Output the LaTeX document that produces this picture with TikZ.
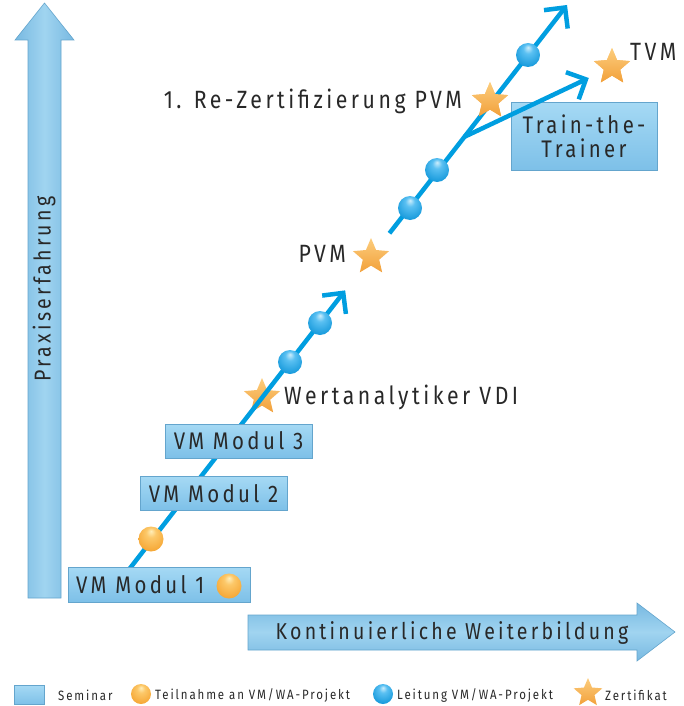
\documentclass[tikz,border=0pt]{standalone}
\usepackage{fontspec}
\setmainfont{Fira Sans}[FakeStretch=0.85, LetterSpace=14]
\usetikzlibrary{arrows.meta,shapes.geometric,shadings}
\definecolor{linec}{RGB}{0,158,224}
\definecolor{boxtop}{RGB}{165,217,244}
\definecolor{boxbot}{RGB}{125,192,232}
\definecolor{boxedge}{RGB}{100,165,205}
\definecolor{arrmid}{RGB}{160,212,240}
\definecolor{arredge}{RGB}{120,185,225}
\definecolor{bhl}{RGB}{205,238,252}
\definecolor{bmid}{RGB}{90,192,242}
\definecolor{ballblue}{RGB}{25,155,220}
\definecolor{bdark}{RGB}{15,125,195}
\definecolor{ohl}{RGB}{255,238,185}
\definecolor{omid}{RGB}{252,200,105}
\definecolor{ballorange}{RGB}{246,168,55}
\definecolor{odark}{RGB}{232,142,40}
\definecolor{starlight}{RGB}{252,205,125}
\definecolor{stardark}{RGB}{242,160,58}
\definecolor{txt}{RGB}{40,40,40}
\pgfdeclareradialshading{bluesph}{\pgfpoint{0bp}{16bp}}{color(0bp)=(bhl); color(10bp)=(bmid); color(30bp)=(ballblue); color(50bp)=(bdark)}
\pgfdeclareradialshading{orangesph}{\pgfpoint{0bp}{16bp}}{color(0bp)=(ohl); color(10bp)=(omid); color(30bp)=(ballorange); color(50bp)=(odark)}
\tikzset{
  box/.style={draw=boxedge, line width=1pt, top color=boxtop, bottom color=boxbot, inner sep=0, text=txt, font=\fontsize{24}{26}\selectfont},
  bball/.style={circle, minimum size=24pt, inner sep=0, shading=bluesph},
  oball/.style={circle, minimum size=25pt, inner sep=0, shading=orangesph},
  starn/.style={star, star points=5, star point ratio=2.2, minimum size=38pt, inner sep=0, top color=starlight, bottom color=stardark},
  flow/.style={line width=4.5pt, draw=linec},
  tip/.style={-{Straight Barb[length=15pt,width=30pt]}},
  lbl/.style={font=\fontsize{25}{27}\selectfont, text=txt, inner sep=0},
  axl/.style={font=\fontsize{23}{25}\selectfont, text=txt, inner sep=0},
  leg/.style={font=\fontsize{13.5}{15}\selectfont, text=txt, inner sep=0, anchor=west},
}
\begin{document}
\begin{tikzpicture}[x=1pt,y=-1pt]
\useasboundingbox (0,0) rectangle (684,706);
% big axis arrows
\path[draw=boxedge, line width=0.6pt, left color=arredge, right color=arredge, middle color=arrmid]
  (28,598) -- (28,40) -- (15,40) -- (44.5,3) -- (74,40) -- (61,40) -- (61,598) -- cycle;
\node[axl, rotate=90] (praxis) at (44,289) {Praxiserfahrung};
\path[draw=boxedge, line width=0.6pt, top color=arredge, bottom color=arredge, middle color=arrmid]
  (248,615) -- (637,615) -- (637,603) -- (675,632) -- (637,661) -- (637,650) -- (248,650) -- cycle;
\node[axl] (kont) at (452,633) {Kontinuierliche Weiterbildung};
% points on the path
\coordinate (s) at (117,585);
\coordinate (b) at (464,137);
\coordinate (top) at (567,5);
\node[starn] (wa) at (262,397) {};
\node[starn] (pvm) at (371,257) {};
\node[starn] (rez) at (490,101) {};
\node[starn] (tvm) at (612,67) {};
% main line
\draw[flow,tip,shorten >=24pt] (s) -- (pvm);
\draw[flow,tip,shorten <=21pt] (pvm) -- (top);
% boxes
\node[box, minimum width=182pt, minimum height=35pt] (m1) at (159,584.5) {};
\node[axl, font=\fontsize{24}{26}\selectfont, anchor=west] (m1t) at (76,585) {VM Modul 1};
\node[box, minimum width=147pt, minimum height=34pt] (m2) at (213.5,493.5) {VM Modul 2};
\node[box, minimum width=147pt, minimum height=34pt] (m3) at (238.5,441) {VM Modul 3};
\node[box, minimum width=146pt, minimum height=67pt, align=center] (ttt) at (584,136.5) {Train-the-\\[-2pt]Trainer};
% branch
\draw[flow,tip,shorten >=16pt] (b) -- (tvm);
% re-draw stars on top
\node[starn] at (rez) {};
\node[starn] at (tvm) {};
% balls
\node[oball] (o1) at (151,539) {};
\node[oball] (o2) at (229,586) {};
\node[bball] (b1) at (290,362) {};
\node[bball] (b2) at (320,323) {};
\node[bball] (b3) at (410,208) {};
\node[bball] (b4) at (437,170) {};
\node[bball] (b5) at (528,55) {};
% labels
\node[lbl, anchor=east] (lrez) at (462,101) {1. Re-Zertifizierung PVM};
\node[lbl, anchor=east] (lpvm) at (346,254) {PVM};
\node[lbl, anchor=west] (lwa) at (284,397) {Wertanalytiker VDI};
\node[lbl, anchor=west] (ltvm) at (630,52) {TVM};
% legend
\node[box, minimum width=30pt, minimum height=19pt] (legbox) at (29,695) {};
\node[leg] (legs) at (58,695) {Seminar};
\node[oball, minimum size=20pt] (lego) at (141,694) {};
\node[leg] (legt) at (155,695) {Teilnahme an VM/WA-Projekt};
\node[bball, minimum size=20pt] (legb) at (383,694) {};
\node[leg] (legl) at (397,695) {Leitung VM/WA-Projekt};
\node[starn, minimum size=30pt] (legst) at (588,693) {};
\node[leg] (legz) at (605,695) {Zertifikat};
\end{tikzpicture}
\end{document}
